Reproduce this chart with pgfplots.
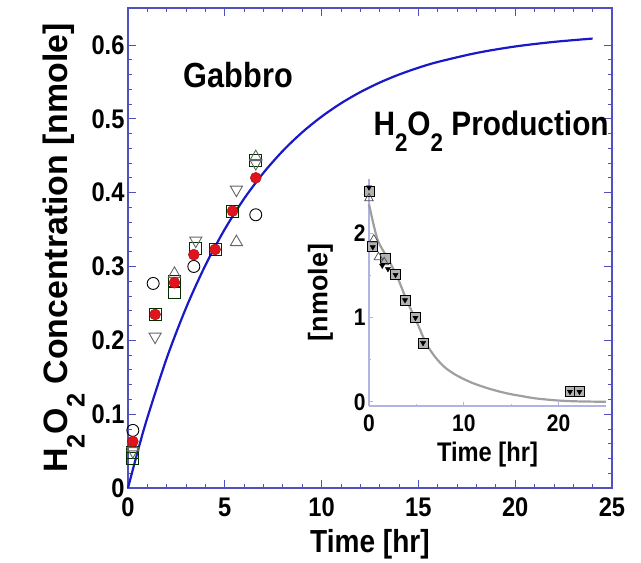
\documentclass[border=0pt]{standalone}
\usepackage{pgfplots}
\pgfplotsset{compat=1.18}
\usepackage{fontspec}
\setmainfont{Liberation Sans}[FakeStretch=0.88]
\newfontfamily\widefont{Liberation Sans}
\definecolor{frame}{RGB}{80,80,190}
\definecolor{curveblue}{RGB}{25,25,200}
\definecolor{insetline}{RGB}{178,178,228}
\definecolor{dotred}{RGB}{225,20,30}
\newcommand\sub[1]{\raisebox{-0.5em}{\scalebox{0.75}{#1}}}

\begin{document}
\begin{tikzpicture}
% main panel
\begin{axis}[
  at={(0,0)}, anchor=south west,
  scale only axis, width=484bp, height=480bp,
  xmin=0, xmax=25, ymin=0, ymax=0.65,
  xtick={0,5,...,25}, ytick={0,0.1,0.2,0.3,0.4,0.5,0.6},
  minor x tick num=4, minor y tick num=4,
  tick align=inside, major tick length=8bp, minor tick length=4bp,
  axis line style={frame, line width=1.2bp},
  tick style={frame, line width=0.8bp},
  tick label style={font=\bfseries\fontsize{27}{27}\selectfont,
    /pgf/number format/assume math mode=true},
  xticklabel style={yshift=-6bp},
  yticklabel style={/pgf/number format/.cd, fixed, precision=1},
  xlabel={Time [hr]},
  xlabel style={font=\bfseries\fontsize{32}{32}\selectfont, yshift=-6bp},
  ylabel={H\sub{2}O\sub{2} Concentration [nmole]},
  ylabel style={font=\widefont\bfseries\fontsize{34}{34}\selectfont, yshift=0bp},
  clip=false,
]
\addplot[curveblue, line width=2.2bp, smooth] coordinates {
  (0,0) (0.5,0.0494) (1,0.0952) (2,0.1758) (3,0.2440) (4,0.3017) (5,0.3505)
  (6,0.3919) (7,0.4269) (8,0.4566) (9,0.4817) (10,0.5029) (11,0.5209)
  (12,0.5361) (13,0.5490) (14,0.5599) (15,0.5691) (16,0.5769) (18,0.5891)
  (20,0.5979) (22,0.6041) (24,0.6086)};
\addplot[only marks, mark=o, mark size=6bp, black, line width=0.9bp] coordinates {
  (0.25,0.078) (1.3,0.277) (3.4,0.300) (6.6,0.370)};
\addplot[only marks, mark=square, mark size=6bp, black!70!green!60!black, line width=0.9bp] coordinates {
  (0.25,0.048) (0.25,0.040) (1.4,0.235) (2.4,0.265) (2.4,0.280) (3.5,0.325)
  (4.5,0.323) (5.4,0.375) (6.6,0.443)};
\addplot[only marks, mark=triangle, mark size=7bp, black!60, line width=0.9bp] coordinates {
  (0.25,0.055) (2.4,0.290) (5.6,0.333) (6.6,0.448)};
\addplot[only marks, mark=triangle, mark options={rotate=180}, mark size=7bp, black!60, line width=0.9bp] coordinates {
  (0.25,0.050) (1.4,0.205) (3.5,0.335) (5.6,0.404) (6.6,0.440)};
\addplot[only marks, mark=*, mark size=5.5bp, draw=dotred!70!black, fill=dotred] coordinates {
  (0.25,0.063) (1.4,0.235) (2.4,0.278) (3.4,0.316) (4.5,0.323) (5.4,0.375) (6.6,0.420)};
\node[anchor=base west, font=\bfseries\fontsize{35}{35}\selectfont] at (axis cs:2.7,0.543) {Gabbro};
\node[anchor=base west, font=\bfseries\fontsize{34}{34}\selectfont] at (axis cs:12.5,0.478) {H\sub{2}O\sub{2} Production};
\end{axis}
% inset
\begin{axis}[
  at={(241bp,82bp)}, anchor=south west,
  scale only axis, width=237bp, height=227bp,
  xmin=0, xmax=25, ymin=-0.05, ymax=2.65,
  axis lines=left, axis line style={-, insetline, line width=1.5bp},
  xtick={0,10,20}, ytick={0,1,2},
  minor x tick num=1, minor y tick num=1,
  tick align=inside, major tick length=4bp, minor tick length=2bp,
  tick style={insetline, line width=0.8bp},
  tick label style={font=\bfseries\fontsize{24}{24}\selectfont,
    /pgf/number format/assume math mode=true},
  xticklabel style={yshift=-5bp},
  xlabel={Time [hr]},
  xlabel style={font=\bfseries\fontsize{27}{27}\selectfont, yshift=-4bp},
  ylabel={[nmole]},
  ylabel style={font=\widefont\bfseries\fontsize{27}{27}\selectfont, yshift=14bp},
  clip=false,
]
\addplot[gray!75, line width=2.2bp, smooth] coordinates {
  (0,2.35) (0.5,2.1) (1,1.9) (2,1.7) (3,1.48) (4,1.2) (5,0.96) (6,0.7)
  (7,0.53) (8,0.41) (9,0.33) (10,0.27) (11,0.22) (12,0.18) (13,0.145)
  (14,0.115) (15,0.09) (16,0.07) (17,0.05) (18,0.035) (20,0.015) (22,0.005) (25,0.0)};
\addplot[only marks, mark=square*, mark size=5bp, draw=black, fill=gray!60, line width=0.8bp] coordinates {
  (0,2.5) (0.4,1.85) (1.7,1.71) (2.8,1.51) (3.8,1.21) (4.9,1.0) (5.7,0.7)
  (21.2,0.12) (22.2,0.12)};
\addplot[only marks, mark=triangle, mark size=5bp, black!70, line width=0.7bp] coordinates {
  (0,2.42) (0.5,1.93) (1.0,1.72) (1.6,1.66)};
\addplot[only marks, mark=triangle*, mark options={rotate=180}, mark size=3bp, black] coordinates {
  (0,2.55) (0.4,1.84) (1.4,1.62) (2.0,1.58) (2.8,1.51) (3.8,1.21) (4.9,1.0) (5.7,0.7)
  (21.2,0.12) (22.2,0.12)};
\end{axis}
\pgfresetboundingbox
\path[use as bounding box] (-128bp,-75bp) rectangle (513bp,488bp);
\end{tikzpicture}
\end{document}
